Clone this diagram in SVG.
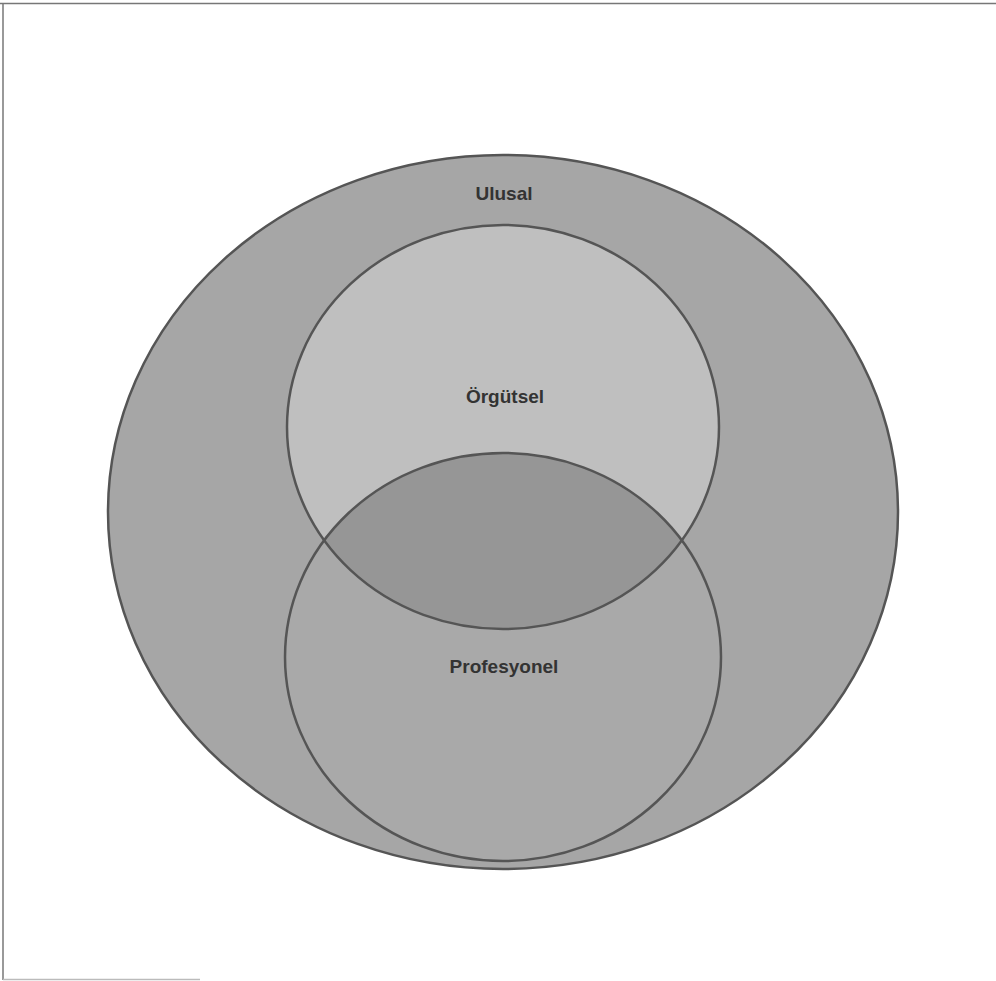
<svg xmlns="http://www.w3.org/2000/svg" width="996" height="981" viewBox="0 0 996 981">
<style>
.set{stroke:#555;stroke-width:2.5}
.lbl{font-family:"Liberation Sans",Arial,sans-serif;font-weight:bold;font-size:19px;fill:#333;text-anchor:middle}
</style>
<defs>
<clipPath id="clipOrg"><ellipse cx="503" cy="427" rx="216" ry="202"/></clipPath>
</defs>
<rect width="996" height="981" fill="#fff"/>
<g id="frame" stroke="#777" stroke-width="1.5" fill="none">
<line x1="0" y1="3.5" x2="996" y2="3.5"/>
<line x1="3" y1="3" x2="3" y2="980"/>
<line x1="3" y1="979.5" x2="200" y2="979.5" stroke="#bbb"/>
</g>
<g id="ulusal">
<ellipse class="set" cx="503" cy="512" rx="395" ry="357" fill="#a6a6a6"/>
<text class="lbl" x="504" y="200">Ulusal</text>
</g>
<g id="orgutsel">
<ellipse cx="503" cy="427" rx="216" ry="202" fill="#bfbfbf"/>
</g>
<g id="profesyonel">
<ellipse cx="503" cy="657" rx="218" ry="204" fill="#a9a9a9"/>
<ellipse cx="503" cy="657" rx="218" ry="204" fill="#969696" clip-path="url(#clipOrg)"/>
</g>
<g id="outlines" fill="none">
<ellipse class="set" cx="503" cy="427" rx="216" ry="202"/>
<ellipse class="set" cx="503" cy="657" rx="218" ry="204"/>
</g>
<g id="labels">
<text class="lbl" x="505" y="403">Örgütsel</text>
<text class="lbl" x="504" y="673">Profesyonel</text>
</g>
<g id="connectors"/>
</svg>
